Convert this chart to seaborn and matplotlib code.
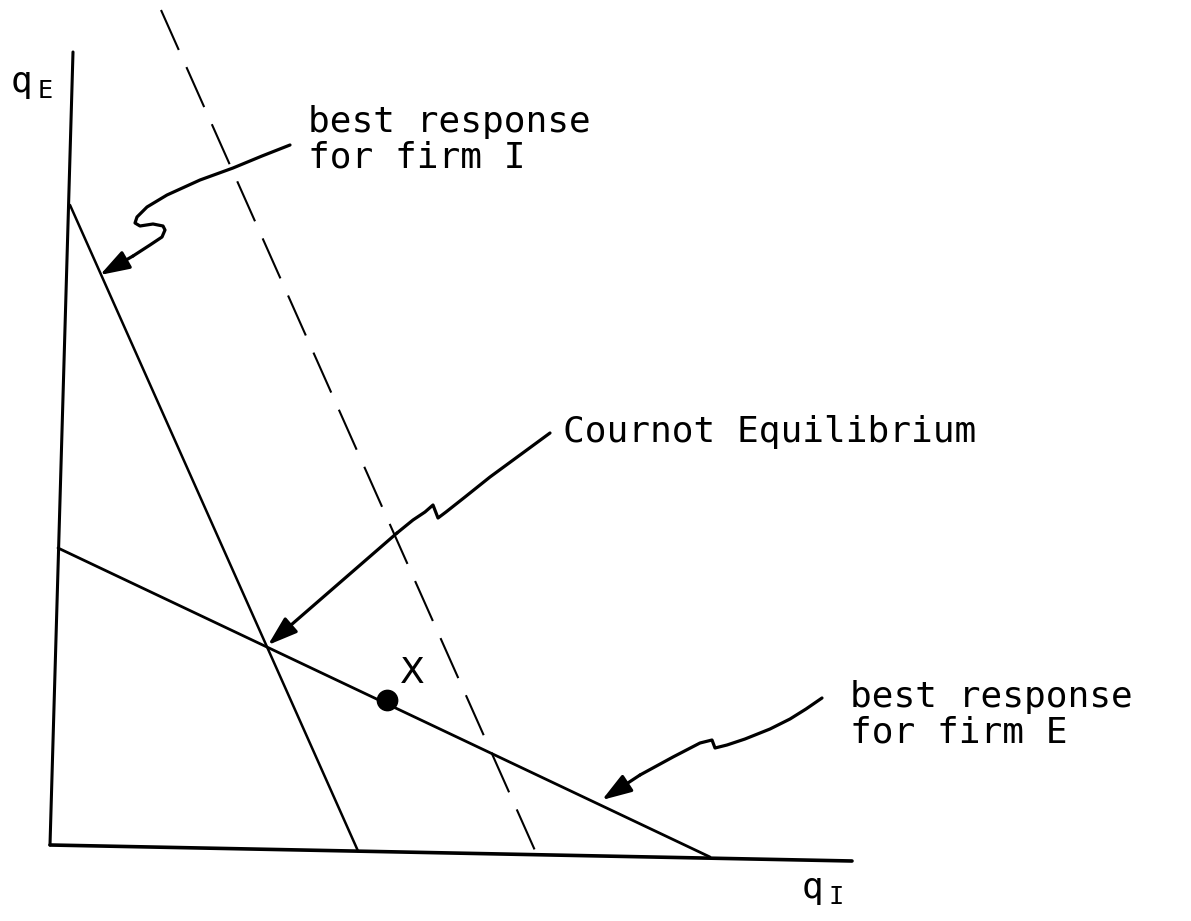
import matplotlib
matplotlib.use("Agg")
import matplotlib.pyplot as plt
import seaborn as sns

sns.set_theme(style="white")
plt.rcParams["font.family"] = ["DejaVu Sans Mono", "DejaVu Sans"]
plt.rcParams["text.color"] = "black"
plt.rcParams["mathtext.fontset"] = "custom"
plt.rcParams["mathtext.rm"] = "DejaVu Sans Mono"
plt.rcParams["mathtext.it"] = "DejaVu Sans Mono"

# diagram geometry (pixel units, y downwards)
axis_v_x = [73, 50]
axis_v_y = [52, 845]
axis_h_x = [50, 852]
axis_h_y = [845, 861]

best_I_x = [70, 358]
best_I_y = [205, 851]
best_E_x = [58, 710]
best_E_y = [548, 857]
shifted_x = [161, 537]
shifted_y = [10, 855]

point_x = [387]
point_y = [700]

# wavy pointer arrows (last point = arrow tip)
arrow_I_x = [290, 262, 233, 200, 167, 147, 137, 135, 140, 153, 163, 165, 162, 150, 133, 100]
arrow_I_y = [145, 156, 168, 180, 195, 207, 217, 223, 226, 224, 226, 230, 237, 245, 256, 275]
arrow_C_x = [550, 520, 490, 465, 446, 438, 433, 425, 413, 397, 268]
arrow_C_y = [433, 455, 477, 497, 512, 518, 505, 512, 520, 533, 645]
arrow_E_x = [822, 806, 790, 770, 745, 727, 715, 712, 700, 673, 640, 602]
arrow_E_y = [698, 709, 719, 729, 739, 745, 748, 740, 743, 757, 775, 800]

labels = ["best response\nfor firm I", "Cournot Equilibrium", "best response\nfor firm E"]
label_x = [308, 563, 850]
label_y = [105, 432, 680]

fig = plt.figure(figsize=(11.91, 9.21), dpi=100)
ax = fig.add_axes([0, 0, 1, 1])
ax.set_xlim(0, 1191)
ax.set_ylim(921, 0)
ax.axis("off")

line_kw = dict(color="black", sort=False, estimator=None, legend=False)
sns.lineplot(x=axis_v_x, y=axis_v_y, linewidth=2.2, ax=ax, **line_kw)
sns.lineplot(x=axis_h_x, y=axis_h_y, linewidth=2.6, ax=ax, **line_kw)
sns.lineplot(x=best_I_x, y=best_I_y, linewidth=1.8, ax=ax, **line_kw)
sns.lineplot(x=best_E_x, y=best_E_y, linewidth=2.0, ax=ax, **line_kw)
sns.lineplot(x=shifted_x, y=shifted_y, linewidth=1.5, linestyle=(0, (21, 9)), ax=ax, **line_kw)

sns.scatterplot(x=point_x, y=point_y, s=210, color="black", edgecolor="black", ax=ax, zorder=5)
ax.text(point_x[0] + 25, point_y[0] - 27, "X", fontsize=26, family="DejaVu Sans",
        ha="center", va="center")

for px, py in [(arrow_I_x, arrow_I_y), (arrow_C_x, arrow_C_y), (arrow_E_x, arrow_E_y)]:
    sns.lineplot(x=px[:-1], y=py[:-1], linewidth=2.3, ax=ax, **line_kw)
    ax.annotate("", xy=(px[-1], py[-1]), xytext=(px[-2], py[-2]),
                arrowprops=dict(arrowstyle="-|>,head_length=1.5,head_width=0.5",
                                color="black", lw=2.3, shrinkA=0, shrinkB=0))

for txt, tx, ty in zip(labels, label_x, label_y):
    va = "center" if "\n" not in txt else "top"
    ax.text(tx, ty, txt, fontsize=26, ha="left", va=va, linespacing=1.05)

ax.text(10, 92, r"q$_{\ \mathrm{E}}$", fontsize=26, ha="left", va="baseline")
ax.text(801, 898, r"q$_{\ \mathrm{I}}$", fontsize=26, ha="left", va="baseline")

fig.savefig("out.png", dpi=100, facecolor="white")
